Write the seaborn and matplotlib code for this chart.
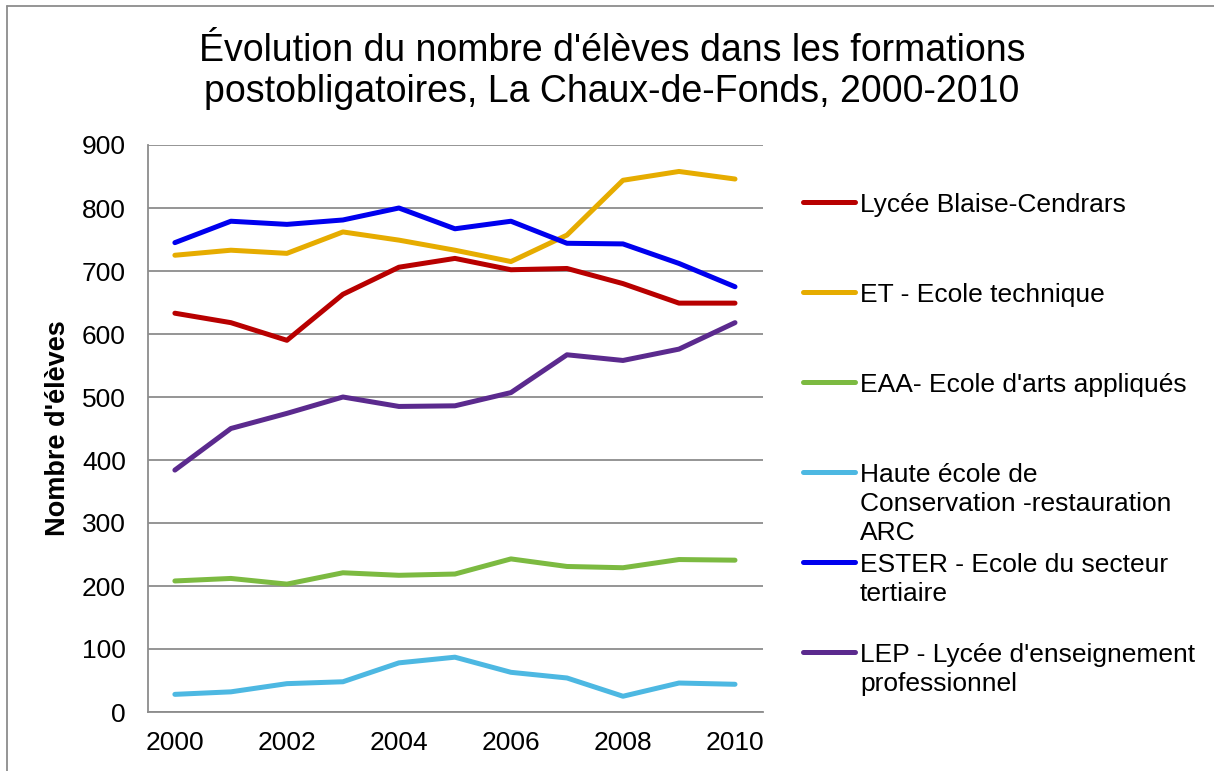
import matplotlib
matplotlib.use("Agg")
import matplotlib.pyplot as plt
from matplotlib.lines import Line2D
import pandas as pd
import seaborn as sns

years = list(range(2000, 2011))

lycee_blaise = [633, 618, 590, 663, 706, 720, 702, 704, 680, 649, 649]
et_technique = [725, 733, 728, 762, 749, 733, 715, 757, 844, 858, 846]
eaa_arts = [208, 212, 203, 221, 217, 219, 243, 231, 229, 242, 241]
haute_ecole = [28, 32, 45, 48, 78, 87, 63, 54, 25, 46, 44]
ester = [745, 779, 774, 781, 800, 767, 779, 744, 743, 712, 675]
lep = [384, 450, 474, 500, 485, 486, 507, 567, 558, 576, 618]

labels = [
    "Lycée Blaise-Cendrars",
    "ET - Ecole technique",
    "EAA- Ecole d'arts appliqués",
    "Haute école de\nConservation -restauration\nARC",
    "ESTER - Ecole du secteur\ntertiaire",
    "LEP - Lycée d'enseignement\nprofessionnel",
]
colors = ["#B80000", "#E6AC00", "#7CBA41", "#4DB8E2", "#0000EE", "#5B2A8E"]
series = [lycee_blaise, et_technique, eaa_arts, haute_ecole, ester, lep]

rows = []
for lab, vals in zip(labels, series):
    for y, v in zip(years, vals):
        rows.append({"Année": y, "Élèves": v, "Formation": lab})
df = pd.DataFrame(rows)

sns.set_style("white")
plt.rcParams["font.family"] = ["Liberation Sans", "DejaVu Sans"]
plt.rcParams["text.color"] = "black"

fig = plt.figure(figsize=(12.14, 7.71), dpi=100)
W, H = 1214, 771
ax = fig.add_axes([148 / W, 1 - 712 / H, (763 - 148) / W, (712 - 145) / H])

sns.lineplot(data=df, x="Année", y="Élèves", hue="Formation",
             palette=dict(zip(labels, colors)), linewidth=3.6,
             ax=ax, legend=False, sort=False)
for ln in ax.lines:
    ln.set_solid_capstyle("round")
    ln.set_solid_joinstyle("round")

ax.set_xlim(1999.52, 2010.5)
ax.set_ylim(0, 900)
ax.set_xticks([2000, 2002, 2004, 2006, 2008, 2010])
ax.set_yticks(range(0, 1000, 100))
ax.yaxis.grid(True, color="#8C8C8C", linewidth=1.3)
ax.set_axisbelow(True)
for s in ["top", "right"]:
    ax.spines[s].set_visible(False)
for s in ["left", "bottom"]:
    ax.spines[s].set_color("#8C8C8C")
    ax.spines[s].set_linewidth(1.3)
ax.tick_params(axis="both", labelsize=19, length=0, colors="black")
ax.tick_params(axis="x", pad=14)
ax.tick_params(axis="y", pad=16)
ax.set_xlabel("")
ax.set_ylabel("Nombre d'élèves", fontsize=19.5, fontweight="bold", color="black")
ax.yaxis.set_label_coords(-0.125, 0.5)

fig.text(612 / W, 1 - 71.5 / H,
         "Évolution du nombre d'élèves dans les formations\n"
         "postobligatoires, La Chaux-de-Fonds, 2000-2010",
         ha="center", va="center", fontsize=27, linespacing=1.15)

# legend drawn by hand so that the marker sits beside the first line
for i, (lab, col) in enumerate(zip(labels, colors)):
    y_px = 202 + 90 * i
    fig.add_artist(Line2D([803 / W, 855 / W], [1 - y_px / H, 1 - y_px / H],
                          color=col, linewidth=3.6, solid_capstyle="round",
                          transform=fig.transFigure))
    for k, part in enumerate(lab.split("\n")):
        fig.text(860 / W, 1 - (y_px + 10 + 29 * k) / H, part,
                 ha="left", va="baseline", fontsize=19)

# chart area border
fig.add_artist(Line2D([7 / W, 7 / W], [0, 1 - 6 / H], color="#8C8C8C",
                      linewidth=1.3, transform=fig.transFigure))
fig.add_artist(Line2D([7 / W, 1], [1 - 6 / H, 1 - 6 / H], color="#8C8C8C",
                      linewidth=1.3, transform=fig.transFigure))

fig.savefig("out.png", dpi=100)
